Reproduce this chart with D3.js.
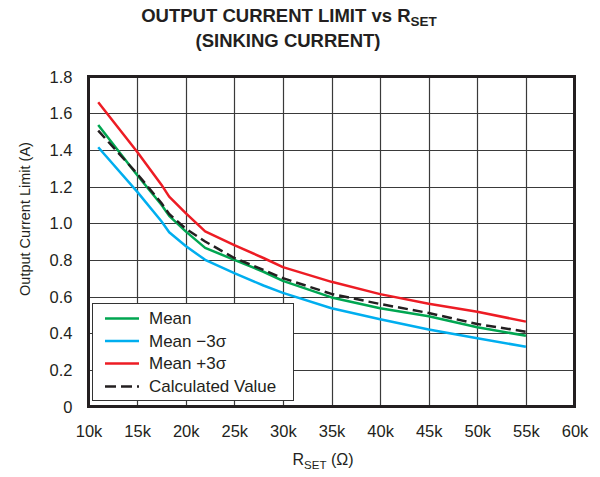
<!DOCTYPE html>
<html><head><meta charset="utf-8">
<script src="https://cdn.jsdelivr.net/npm/d3@7"></script>
<style>body{margin:0;background:#fff;} svg{display:block;font-family:"Liberation Sans",Arial,sans-serif;}</style>
</head><body>
<svg id="c" width="600" height="477"></svg>
<script>
const rset = [11, 15, 17.5, 18.3, 20, 22, 25, 28, 30, 35, 40, 45, 50, 55];
const meanVals = [1.536, 1.263, 1.10, 1.04, 0.955, 0.865, 0.80, 0.735, 0.685, 0.595, 0.536, 0.492, 0.432, 0.386];
const minusVals = [1.414, 1.172, 1.01, 0.95, 0.875, 0.80, 0.727, 0.66, 0.62, 0.536, 0.476, 0.42, 0.372, 0.326];
const plusVals = [1.66, 1.39, 1.21, 1.145, 1.055, 0.955, 0.88, 0.81, 0.76, 0.68, 0.613, 0.56, 0.517, 0.463];
const calcVals = [1.505, 1.27, 1.11, 1.05, 0.97, 0.90, 0.81, 0.745, 0.70, 0.614, 0.559, 0.51, 0.45, 0.408];
const xTicks = [10, 15, 20, 25, 30, 35, 40, 45, 50, 55, 60];
const yTicks = [0, 0.2, 0.4, 0.6, 0.8, 1.0, 1.2, 1.4, 1.6, 1.8];
const seriesNames = ["Mean", "Mean \u22123\u03c3", "Mean +3\u03c3", "Calculated Value"];
const seriesColors = ["#00a651", "#00aeef", "#ed1c24", "#231f20"];

const series = [
  {name: seriesNames[0], vals: meanVals, color: seriesColors[0], dash: null},
  {name: seriesNames[1], vals: minusVals, color: seriesColors[1], dash: null},
  {name: seriesNames[2], vals: plusVals, color: seriesColors[2], dash: null},
  {name: seriesNames[3], vals: calcVals, color: seriesColors[3], dash: "10,5"}
];

const svg = d3.select("#c");
const L = 88.5, R = 574.5, T = 76.5, B = 406.5;
const x = d3.scaleLinear().domain([10, 60]).range([L, R]);
const y = d3.scaleLinear().domain([0, 1.8]).range([B, T]);

// grid
const g = svg.append("g");
g.selectAll("line.vx").data(xTicks.slice(1, -1)).join("line")
  .attr("x1", d => Math.round(x(d)) + 0.5).attr("x2", d => Math.round(x(d)) + 0.5)
  .attr("y1", T).attr("y2", B).attr("stroke", "#3a3a3a").attr("stroke-width", 1.2);
g.selectAll("line.hy").data(yTicks.slice(1, -1)).join("line")
  .attr("y1", d => Math.round(y(d)) + 0.5).attr("y2", d => Math.round(y(d)) + 0.5)
  .attr("x1", L).attr("x2", R).attr("stroke", "#3a3a3a").attr("stroke-width", 1.2);

// axes with labels
const xAxis = d3.axisBottom(x).tickValues(xTicks).tickSize(0).tickPadding(0).tickFormat(d => d + "k");
const xa = svg.append("g").attr("transform", `translate(0,${B})`).call(xAxis);
xa.select(".domain").remove();
xa.selectAll("text").attr("y", 30).attr("dy", 0).attr("font-size", 16.5).attr("fill", "#231f20")
  .attr("font-family", "Liberation Sans, Arial, sans-serif");

const yAxis = d3.axisLeft(y).tickValues(yTicks).tickSize(0).tickPadding(0)
  .tickFormat(d => d === 0 ? "0" : d3.format(".1f")(d));
const ya = svg.append("g").attr("transform", `translate(${L},0)`).call(yAxis);
ya.select(".domain").remove();
ya.selectAll("text").attr("x", -16).attr("dy", "0.35em").attr("font-size", 16.5).attr("fill", "#231f20")
  .attr("font-family", "Liberation Sans, Arial, sans-serif");

// lines
const line = d3.line().x(d => x(d[0])).y(d => y(d[1]));
svg.append("g").selectAll("path").data(series).join("path")
  .attr("d", s => line(rset.map((r, i) => [r, s.vals[i]])))
  .attr("fill", "none").attr("stroke", s => s.color).attr("stroke-width", 2.5)
  .attr("stroke-dasharray", s => s.dash).attr("stroke-linejoin", "round");

// frame
svg.append("rect").attr("x", L).attr("y", T).attr("width", R - L).attr("height", B - T)
  .attr("fill", "none").attr("stroke", "#231f20").attr("stroke-width", 3);

// legend
const lg = svg.append("g");
lg.append("rect").attr("x", 92.5).attr("y", 303.5).attr("width", 201).attr("height", 97)
  .attr("fill", "#fff").attr("stroke", "#333").attr("stroke-width", 1);
const rowY = [318.5, 341, 363.5, 386.5];
series.forEach((s, i) => {
  lg.append("line").attr("x1", 105).attr("x2", 139).attr("y1", rowY[i]).attr("y2", rowY[i])
    .attr("stroke", s.color).attr("stroke-width", 2.5).attr("stroke-dasharray", s.dash ? "11,5" : null);
  lg.append("text").attr("x", 149).attr("y", rowY[i]).attr("dy", "0.35em")
    .attr("font-size", 17).attr("fill", "#231f20").text(s.name);
});

// title
const t1 = svg.append("text").attr("x", 289).attr("y", 22).attr("text-anchor", "middle")
  .attr("font-size", 18.5).attr("font-weight", "bold").attr("fill", "#231f20");
t1.append("tspan").text("OUTPUT CURRENT LIMIT vs R");
t1.append("tspan").attr("font-size", 13.5).attr("dy", 4).text("SET");
svg.append("text").attr("x", 288).attr("y", 47).attr("text-anchor", "middle")
  .attr("font-size", 18.5).attr("font-weight", "bold").attr("fill", "#231f20").text("(SINKING CURRENT)");

// axis titles
const xt = svg.append("text").attr("x", 323).attr("y", 465).attr("text-anchor", "middle")
  .attr("font-size", 16).attr("fill", "#231f20");
xt.append("tspan").text("R");
xt.append("tspan").attr("font-size", 11.5).attr("dy", 4).text("SET");
xt.append("tspan").attr("dy", -4).text(" (\u03a9)");

svg.append("text").attr("transform", "translate(30,219) rotate(-90)").attr("text-anchor", "middle")
  .attr("font-size", 14.5).attr("fill", "#231f20").text("Output Current Limit (A)");
</script>
</body></html>
